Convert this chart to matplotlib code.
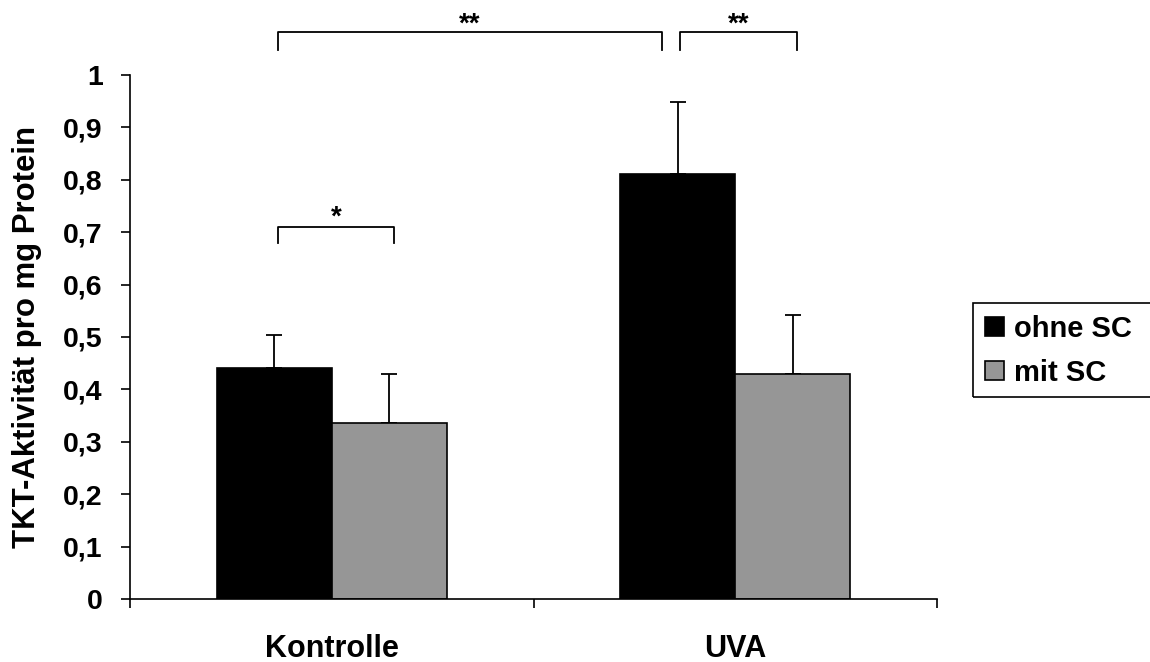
import numpy as np
import matplotlib.pyplot as plt
from matplotlib.patches import Rectangle

plt.rcParams["font.family"] = ["Liberation Sans", "DejaVu Sans"]
plt.rcParams["font.weight"] = "bold"

categories = ["Kontrolle", "UVA"]
series = ["ohne SC", "mit SC"]
values_ohne = [0.44, 0.81]
values_mit = [0.335, 0.43]
err_ohne = [0.063, 0.138]
err_mit = [0.095, 0.112]
y_ticks = [0, 0.1, 0.2, 0.3, 0.4, 0.5, 0.6, 0.7, 0.8, 0.9, 1.0]
y_tick_labels = ["0", "0,1", "0,2", "0,3", "0,4", "0,5", "0,6", "0,7", "0,8", "0,9", "1"]

fig = plt.figure(figsize=(11.5, 6.62), dpi=100)
ax = fig.add_axes([0.113, 0.095, 0.702, 0.792])

x = np.arange(len(categories))
w = 0.285

ax.bar(x - w / 2, values_ohne, w, color="black", edgecolor="black",
       linewidth=1.2, label=series[0], zorder=2)
ax.bar(x + w / 2, values_mit, w, color="#969696", edgecolor="black",
       linewidth=1.2, label=series[1], zorder=2)

ax.errorbar(x - w / 2, values_ohne, yerr=[np.zeros(2), err_ohne], fmt="none",
            ecolor="black", elinewidth=1.3, capsize=5.5, capthick=1.3, zorder=1)
ax.errorbar(x + w / 2, values_mit, yerr=[np.zeros(2), err_mit], fmt="none",
            ecolor="black", elinewidth=1.3, capsize=5.5, capthick=1.3, zorder=1)

ax.set_xlim(-0.5, 1.5)
ax.set_ylim(0, 1)
ax.set_yticks(y_ticks)
ax.set_yticklabels(y_tick_labels, fontsize=20.5, fontweight="bold")
ax.set_xticks([-0.5, 0.5, 1.5])
ax.set_xticklabels([])
ax.set_xticks(x, minor=True)
ax.set_xticklabels(categories, minor=True, fontsize=22, fontweight="bold")
ax.tick_params(axis="x", which="minor", length=0, pad=25)
ax.tick_params(axis="both", which="major", direction="out", length=6.5, width=1.2)
ax.tick_params(axis="y", pad=13)
ax.set_ylabel("TKT-Aktivität pro mg Protein", fontsize=22.4, fontweight="bold")
ax.yaxis.set_label_coords(-0.109, 0.5)

for s in ["top", "right"]:
    ax.spines[s].set_visible(False)
for s in ["left", "bottom"]:
    ax.spines[s].set_linewidth(1.2)


def bracket(x0, x1, y, h, text, dy):
    ax.plot([x0, x0, x1, x1], [y - h, y, y, y - h], color="black",
            linewidth=1.3, clip_on=False)
    ax.text((x0 + x1) / 2, y + dy, text, ha="center", va="bottom",
            fontsize=20, fontweight="bold")


bracket(-0.133, 0.818, 1.082, 0.034, "**", -0.012)
bracket(0.863, 1.153, 1.082, 0.034, "**", -0.012)
bracket(-0.133, 0.153, 0.71, 0.031, "*", -0.008)

leg = ax.legend(loc="upper left", bbox_to_anchor=(0.846, 0.5423),
                bbox_transform=fig.transFigure, fontsize=21,
                frameon=False, handlelength=0.65, handleheight=0.65,
                handletextpad=0.35, borderpad=0.4, labelspacing=0.55,
                borderaxespad=0)
for t in leg.get_texts():
    t.set_fontweight("bold")

# legend box runs past the right edge of the figure, as in the original
fig.patches.append(Rectangle((0.8461, 0.4003), 0.17, 0.142, transform=fig.transFigure,
                             facecolor="none", edgecolor="black", linewidth=1.2))

fig.savefig("out.png", dpi=100)
